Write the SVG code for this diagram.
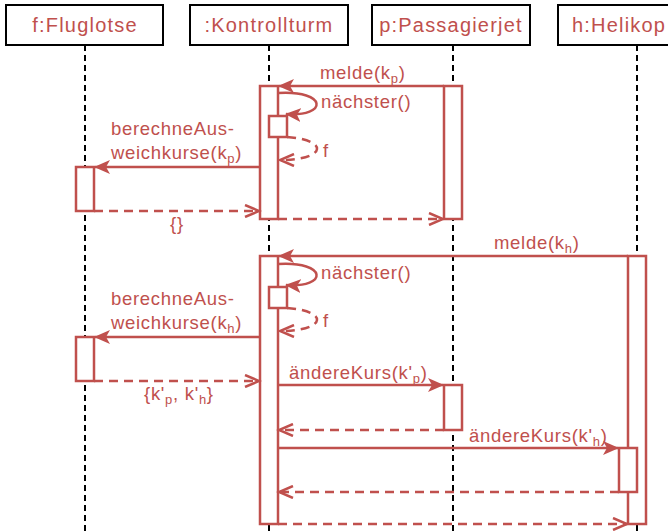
<svg xmlns="http://www.w3.org/2000/svg" width="668" height="532" viewBox="0 0 668 532">
<style>
.hdr{fill:#fff;stroke:#000;stroke-width:2}
.life{stroke:#000;stroke-width:2;stroke-dasharray:6,4;fill:none}
.act{fill:#fff;stroke:#c0504d;stroke-width:2.5}
.msg{stroke:#c0504d;stroke-width:2.5;fill:none}
.ret{stroke:#c0504d;stroke-width:2.5;fill:none;stroke-dasharray:9,6}
.t{font-family:"Comic Sans MS","Liberation Sans",sans-serif;fill:#c0504d;font-size:18.5px;letter-spacing:0.7px}
.h{font-family:"Comic Sans MS","Liberation Sans",sans-serif;fill:#c0504d;font-size:20px;letter-spacing:1.2px}
.s{font-size:13px}
</style>
<defs>
<marker id="fa" markerUnits="userSpaceOnUse" markerWidth="18" markerHeight="14" refX="15" refY="7" orient="auto">
<path d="M0,0 L16,7 L0,14 L4,7 z" fill="#c0504d"/>
</marker>
<marker id="oa" markerUnits="userSpaceOnUse" markerWidth="18" markerHeight="14" refX="15" refY="7" orient="auto">
<path d="M1,1 L15,7 L1,13" fill="none" stroke="#c0504d" stroke-width="2.5"/>
</marker>
</defs>
<g id="lifelines">
<line class="life" x1="85" y1="45" x2="85" y2="532"/>
<line class="life" x1="269" y1="45" x2="269" y2="532"/>
<line class="life" x1="453" y1="45" x2="453" y2="532"/>
<line class="life" x1="637" y1="45" x2="637" y2="532"/>
</g>
<g id="f-Fluglotse">
<rect class="hdr" x="6" y="5" width="157" height="40"/>
<text class="h" x="85" y="32" text-anchor="middle">f:Fluglotse</text>
</g>
<g id="Kontrollturm">
<rect class="hdr" x="190" y="5" width="158" height="40"/>
<text class="h" x="269" y="32" text-anchor="middle">:Kontrollturm</text>
</g>
<g id="p-Passagierjet">
<rect class="hdr" x="372" y="5" width="158" height="40"/>
<text class="h" x="451" y="32" text-anchor="middle">p:Passagierjet</text>
</g>
<g id="h-Helikop">
<rect class="hdr" x="558" y="5" width="120" height="40"/>
<text class="h" x="572" y="32">h:Helikop</text>
</g>
<g id="activations">
<rect class="act" x="260" y="86" width="18" height="133"/>
<rect class="act" x="444" y="86" width="18" height="133"/>
<rect class="act" x="269" y="116" width="18" height="21"/>
<rect class="act" x="76" y="167" width="18" height="44"/>
<rect class="act" x="260" y="256" width="18" height="268"/>
<rect class="act" x="628" y="256" width="18" height="268"/>
<rect class="act" x="269" y="287" width="18" height="21"/>
<rect class="act" x="76" y="337" width="18" height="44"/>
<rect class="act" x="444" y="385" width="18" height="45"/>
<rect class="act" x="619" y="448" width="18" height="44"/>
</g>
<g id="connectors">
<line class="msg" x1="444" y1="86" x2="279" y2="86" marker-end="url(#fa)"/>
<path class="msg" d="M278,93 C328,90 328,117 286,114" marker-end="url(#fa)"/>
<path class="ret" d="M287,137 C330,140 326,160 280,160" marker-end="url(#oa)"/>
<line class="msg" x1="260" y1="167" x2="95" y2="167" marker-end="url(#fa)"/>
<line class="ret" x1="94" y1="211" x2="259" y2="211" marker-end="url(#oa)"/>
<line class="ret" x1="278" y1="219" x2="443" y2="219" marker-end="url(#oa)"/>
<line class="msg" x1="628" y1="256" x2="279" y2="256" marker-end="url(#fa)"/>
<path class="msg" d="M278,264 C328,261 328,288 286,285" marker-end="url(#fa)"/>
<path class="ret" d="M287,308 C330,311 326,331 280,331" marker-end="url(#oa)"/>
<line class="msg" x1="260" y1="337" x2="95" y2="337" marker-end="url(#fa)"/>
<line class="ret" x1="94" y1="381" x2="259" y2="381" marker-end="url(#oa)"/>
<line class="msg" x1="278" y1="385" x2="443" y2="385" marker-end="url(#fa)"/>
<line class="ret" x1="444" y1="430" x2="279" y2="430" marker-end="url(#oa)"/>
<line class="msg" x1="278" y1="448" x2="618" y2="448" marker-end="url(#fa)"/>
<line class="ret" x1="619" y1="492" x2="279" y2="492" marker-end="url(#oa)"/>
<line class="ret" x1="278" y1="524" x2="627" y2="524" marker-end="url(#oa)"/>
</g>
<g id="labels">
<text class="t" x="320" y="79">melde(k<tspan class="s" dy="4">p</tspan><tspan dy="-4">)</tspan></text>
<text class="t" x="321" y="108">nächster()</text>
<text class="t" x="323" y="157">f</text>
<text class="t" x="111" y="135">berechneAus-</text>
<text class="t" x="111" y="159">weichkurse(k<tspan class="s" dy="4">p</tspan><tspan dy="-4">)</tspan></text>
<text class="t" x="177" y="230" text-anchor="middle">{}</text>
<text class="t" x="494" y="249">melde(k<tspan class="s" dy="4">h</tspan><tspan dy="-4">)</tspan></text>
<text class="t" x="321" y="279">nächster()</text>
<text class="t" x="323" y="327">f</text>
<text class="t" x="111" y="305">berechneAus-</text>
<text class="t" x="111" y="329">weichkurse(k<tspan class="s" dy="4">h</tspan><tspan dy="-4">)</tspan></text>
<text class="t" x="144" y="400">{k'<tspan class="s" dy="4">p</tspan><tspan dy="-4">, k'</tspan><tspan class="s" dy="4">h</tspan><tspan dy="-4">}</tspan></text>
<text class="t" x="289" y="379">ändereKurs(k'<tspan class="s" dy="4">p</tspan><tspan dy="-4">)</tspan></text>
<text class="t" x="469" y="442">ändereKurs(k'<tspan class="s" dy="4">h</tspan><tspan dy="-4">)</tspan></text>
</g>
</svg>
